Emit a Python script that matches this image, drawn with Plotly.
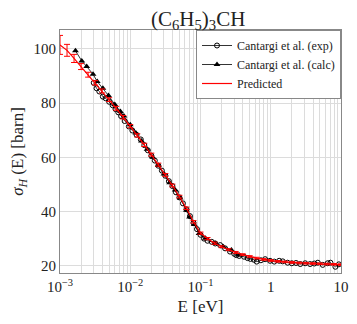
import plotly.graph_objects as go

# log10(E / eV) and cross sections
logE_pred = [-3.0, -2.9, -2.8, -2.7, -2.6, -2.5, -2.4, -2.3, -2.2, -2.1,
             -2.0, -1.9, -1.8, -1.7, -1.6, -1.5, -1.4, -1.3, -1.2, -1.1,
             -1.0, -0.9, -0.8, -0.7, -0.6, -0.5, -0.4, -0.3, -0.2, -0.1,
             0.0, 0.1, 0.2, 0.3, 0.4, 0.5, 0.6, 0.7, 0.8, 0.9, 1.0]
sigma_pred = [101.5, 99.5, 96.5, 93.5, 90.5, 87.5, 84.5, 81.3, 78.1, 74.8,
              71.5, 68.1, 64.6, 61.0, 57.3, 53.5, 49.6, 45.5, 41.2, 36.2,
              32.0, 30.0, 28.3, 27.0, 25.9, 24.9, 24.1, 23.4, 22.8, 22.3,
              21.9, 21.6, 21.4, 21.2, 21.0, 20.9, 20.8, 20.7, 20.6, 20.5, 20.4]
err_pred = [3.5, 2.2, 1.5, 1.1, 0.9, 0.8, 0.75, 0.7, 0.7, 0.65,
            0.6, 0.6, 0.6, 0.55, 0.55, 0.5, 0.5, 0.5, 0.45, 0.45,
            0.4, 0.4, 0.4, 0.35, 0.35, 0.35, 0.3, 0.3, 0.3, 0.3,
            0.3, 0.3, 0.3, 0.3, 0.3, 0.3, 0.3, 0.3, 0.3, 0.3, 0.3]

logE_exp = [-2.52, -2.48, -2.44, -2.39, -2.35, -2.30, -2.25, -2.21, -2.17, -2.13,
            -2.08, -2.02, -1.97, -1.91, -1.85, -1.80, -1.75, -1.70, -1.65, -1.60,
            -1.55, -1.50, -1.45, -1.40, -1.35, -1.30, -1.25, -1.20, -1.15, -1.10,
            -1.05, -1.00, -0.95, -0.90, -0.84, -0.79, -0.72, -0.65, -0.58, -0.52,
            -0.49, -0.45, -0.38, -0.33, -0.29, -0.24, -0.20, -0.14, -0.08, -0.01,
            0.05, 0.12, 0.17, 0.24, 0.30, 0.36, 0.42, 0.49, 0.56, 0.62,
            0.67, 0.74, 0.81, 0.85, 0.92, 0.97]
sigma_exp = [87.5, 85.5, 84.3, 82.4, 81.8, 80.5, 79.2, 77.8, 76.6, 75.2,
             73.4, 71.4, 69.9, 68.3, 66.6, 64.5, 62.6, 60.6, 58.8, 56.9,
             55.1, 53.2, 51.2, 49.4, 47.1, 45.2, 43.0, 40.8, 38.3, 35.8,
             33.5, 31.4, 30.0, 29.2, 28.8, 28.2, 27.6, 26.4, 25.2, 24.4,
             23.9, 23.6, 23.3, 22.8, 22.5, 22.2, 21.5, 22.0, 22.4, 21.8,
             21.5, 21.8, 21.6, 21.1, 20.9, 21.0, 20.6, 20.9, 20.6, 20.8,
             21.1, 20.3, 20.9, 21.1, 19.6, 20.5]

logE_calc = [-2.78, -2.69, -2.62, -2.53, -2.47, -2.39, -2.31, -2.22, -2.14, -2.09,
             -2.00, -1.92, -1.84, -1.76, -1.68, -1.60, -1.52, -1.44, -1.36, -1.29,
             -1.20, -1.155, -1.09, -1.02, -0.93, -0.79, -0.675, -0.56, -0.45]
sigma_calc = [99.3, 95.6, 93.5, 90.7, 88.0, 85.5, 82.8, 79.5, 76.9, 75.3,
              72.0, 69.0, 66.0, 63.0, 60.0, 57.0, 53.8, 50.6, 47.9, 45.0,
              40.5, 38.0, 35.2, 31.9, 30.1, 28.2, 27.0, 25.8, 23.9]

x_ticks = [1e-3, 1e-2, 1e-1, 1, 10]
x_ticktext = ['10<sup>−3</sup>', '10<sup>−2</sup>', '10<sup>−1</sup>', '1', '10']
y_ticks = [20, 40, 60, 80, 100]

font = 'Liberation Serif, Times New Roman, DejaVu Serif, serif'

fig = go.Figure()

fig.add_trace(go.Scatter(
    x=[10 ** v for v in logE_exp], y=sigma_exp,
    mode='lines+markers', name='Cantargi et al. (exp)',
    line=dict(color='black', width=0.8),
    marker=dict(symbol='circle-open', size=5, color='black', line=dict(width=1))
))
fig.add_trace(go.Scatter(
    x=[10 ** v for v in logE_calc], y=sigma_calc,
    mode='lines+markers', name='Cantargi et al. (calc)',
    line=dict(color='black', width=0.8),
    marker=dict(symbol='triangle-up', size=6, color='black')
))
fig.add_trace(go.Scatter(
    x=[10 ** v for v in logE_pred], y=sigma_pred,
    mode='lines', name='Predicted',
    line=dict(color='red', width=1.2),
    error_y=dict(type='data', array=err_pred, color='red', thickness=1, width=3)
))

# the page body adds an 8px margin, so the figure is 8px smaller on each offset side
fig.update_layout(
    width=349, height=316,
    margin=dict(l=49, r=8, t=22, b=51),
    paper_bgcolor='white', plot_bgcolor='white',
    font=dict(family=font, size=15, color='#222'),
    title=dict(text='(C<sub>6</sub>H<sub>5</sub>)<sub>3</sub>CH', x=0.545, xanchor='center',
               y=0.99, yanchor='top', font=dict(size=21, family=font)),
    showlegend=True,
    legend=dict(x=1, y=1, xanchor='right', yanchor='top',
                bgcolor='white', bordercolor='#888', borderwidth=1,
                font=dict(size=12, family=font), tracegroupgap=0,
                itemwidth=30),
)

fig.update_xaxes(
    type='log', range=[-3, 1],
    tickvals=x_ticks, ticktext=x_ticktext,
    showgrid=True, gridcolor='#dcdcdc', gridwidth=1,
    minor=dict(dtick='D1', showgrid=True, gridcolor='#dcdcdc', gridwidth=0.8, ticks=''),
    showline=True, linecolor='#888', linewidth=1, mirror=True,
    ticks='', zeroline=False,
    title=dict(text='E [eV]', font=dict(size=17), standoff=6),
)
fig.update_yaxes(
    range=[17.3, 107],
    tickvals=y_ticks,
    showgrid=True, gridcolor='#dcdcdc', gridwidth=1,
    showline=True, linecolor='#888', linewidth=1, mirror=True,
    ticks='', zeroline=False,
    title=dict(text='<i>σ<sub>H</sub></i> (E) [barn]', font=dict(size=17), standoff=6),
)

fig.write_html('out.html')
